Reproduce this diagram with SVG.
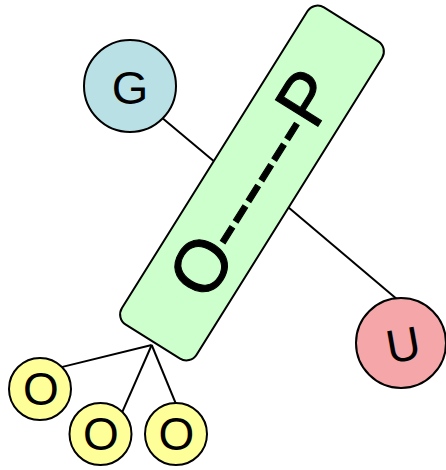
<svg xmlns="http://www.w3.org/2000/svg" width="446" height="470" viewBox="0 0 446 470">
<style>
.edge{stroke:#000;stroke-width:2;fill:none}
.node{stroke:#000;stroke-width:2}
.lbl{font-family:"Liberation Sans",Arial,sans-serif;fill:#000;text-anchor:middle}
</style>
<rect width="446" height="470" fill="#fff"/>
<g id="connectors">
<line class="edge" x1="130" y1="91" x2="225" y2="170.5"/>
<line class="edge" x1="280" y1="200.3" x2="400" y2="301.7"/>
<line class="edge" x1="151.7" y1="345" x2="58.4" y2="367.9"/>
<line class="edge" x1="151.7" y1="345" x2="120.7" y2="415.6"/>
<line class="edge" x1="151.7" y1="345" x2="177.9" y2="408.6"/>
</g>
<g id="node-OP" transform="translate(252,183) rotate(-58)">
<rect class="node" x="-187" y="-44" width="374" height="88" rx="12" ry="12" fill="#ccffcc"/>
<text class="lbl" x="0" y="26" font-size="73" stroke="#000" stroke-width="1">O------P</text>
</g>
<g id="node-G">
<circle class="node" cx="130" cy="86" r="46" fill="#b9e0e5"/>
<text class="lbl" x="130" y="104" font-size="47">G</text>
</g>
<g id="node-U">
<circle class="node" cx="401" cy="343" r="45" fill="#f4a6a9"/>
<text class="lbl" x="403" y="361" font-size="47" transform="rotate(-10 403 344)">U</text>
</g>
<g id="node-O1">
<circle class="node" cx="40" cy="389" r="31" fill="#ffff99"/>
<text class="lbl" x="41" y="405" font-size="46">O</text>
</g>
<g id="node-O2">
<circle class="node" cx="100.5" cy="434" r="31" fill="#ffff99"/>
<text class="lbl" x="101" y="450" font-size="46">O</text>
</g>
<g id="node-O3">
<circle class="node" cx="176" cy="434" r="31" fill="#ffff99"/>
<text class="lbl" x="176.5" y="450" font-size="46">O</text>
</g>
</svg>
